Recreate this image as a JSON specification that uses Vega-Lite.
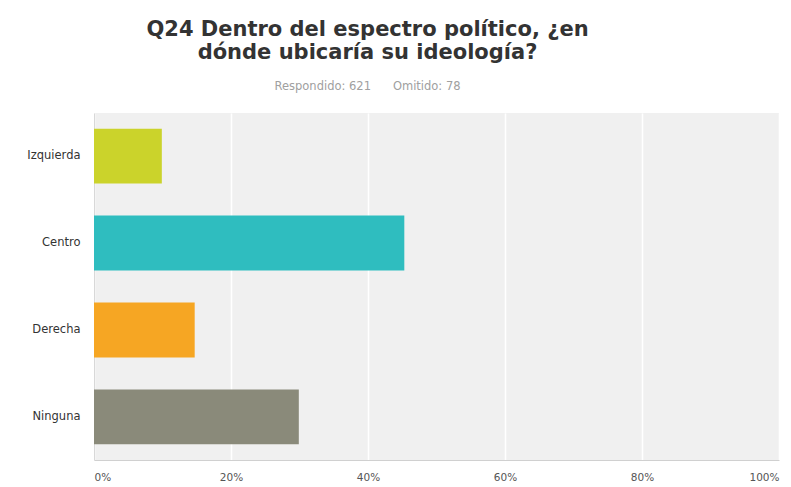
{
  "$schema": "https://vega.github.io/schema/vega-lite/v6.json",
  "autosize": "none",
  "width": 685,
  "height": 347,
  "padding": {"left": 94, "top": 113, "right": 12, "bottom": 27},
  "background": "#ffffff",
  "title": {
    "text": ["Q24 Dentro del espectro político, ¿en", "dónde ubicaría su ideología?"],
    "subtitle": "Respondido: 621\u00a0\u00a0\u00a0\u00a0\u00a0\u00a0Omitido: 78",
    "anchor": "middle",
    "frame": "group",
    "dx": -69,
    "offset": 21,
    "font": "DejaVu Sans",
    "fontSize": 21,
    "fontWeight": "bold",
    "color": "#333333",
    "lineHeight": 23,
    "subtitleFont": "DejaVu Sans",
    "subtitleFontSize": 11.5,
    "subtitleColor": "#a0a0a0",
    "subtitlePadding": 18
  },
  "data": {
    "values": [
      {"opcion": "Izquierda", "pct": 0.099},
      {"opcion": "Centro", "pct": 0.453},
      {"opcion": "Derecha", "pct": 0.147},
      {"opcion": "Ninguna", "pct": 0.299}
    ]
  },
  "mark": {"type": "bar"},
  "encoding": {
    "y": {
      "field": "opcion",
      "type": "nominal",
      "sort": ["Izquierda", "Centro", "Derecha", "Ninguna"],
      "scale": {"paddingInner": 0.37, "paddingOuter": 0.18},
      "axis": {
        "title": null,
        "ticks": false,
        "domain": true,
        "domainColor": "#d8d8d8",
        "labelFont": "DejaVu Sans",
        "labelFontSize": 11.5,
        "labelColor": "#333333",
        "labelPadding": 14
      }
    },
    "x": {
      "field": "pct",
      "type": "quantitative",
      "scale": {"domain": [0, 1], "nice": false},
      "axis": {
        "title": null,
        "values": [0, 0.2, 0.4, 0.6, 0.8, 1],
        "format": ".0%",
        "ticks": false,
        "grid": true,
        "gridColor": "#ffffff",
        "gridWidth": 1.5,
        "domainColor": "#d0d0d0",
        "labelFont": "DejaVu Sans",
        "labelFontSize": 10.5,
        "labelColor": "#555555",
        "labelPadding": 12
      }
    },
    "color": {
      "field": "opcion",
      "type": "nominal",
      "scale": {
        "domain": ["Izquierda", "Centro", "Derecha", "Ninguna"],
        "range": ["#cbd32b", "#2fbdbf", "#f6a623", "#8a8a7a"]
      },
      "legend": null
    }
  },
  "config": {
    "view": {"fill": "#f0f0f0", "stroke": null}
  }
}
